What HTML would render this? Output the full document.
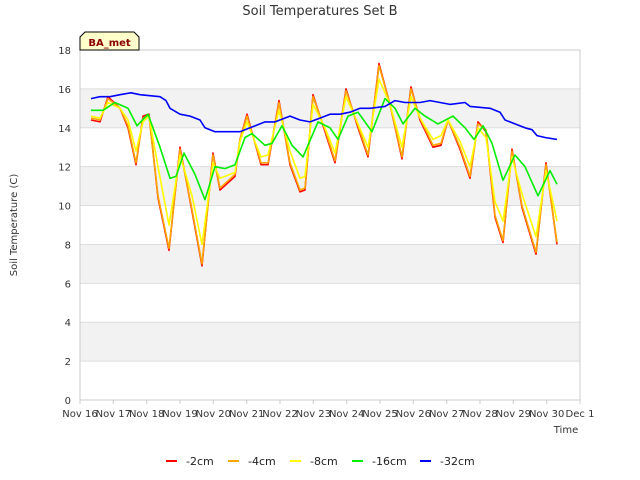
<!DOCTYPE html>
<html><head><meta charset="utf-8"><style>
body{margin:0;background:#fff;}
svg{display:block;font-family:"DejaVu Sans","Liberation Sans",sans-serif;}
</style></head><body>
<svg id="chart" width="640" height="480" viewBox="0 0 640 480">
<rect width="640" height="480" fill="#fff"/>
<text x="320" y="15" text-anchor="middle" font-size="13" fill="#333">Soil Temperatures Set B</text>
<g id="bands"></g>
<g id="grid"></g>
<g id="axes"></g>
<g id="series"></g>
<text transform="translate(17,225) rotate(-90)" text-anchor="middle" font-size="10" fill="#333">Soil Temperature (C)</text>
<text x="566" y="433" text-anchor="middle" font-size="10" fill="#333">Time</text>
<g>
<path d="M80,50 L80,37 L85,32 L134,32 L139,37 L139,50 Z" fill="#ffffcc" stroke="#000" stroke-width="1"/>
<text x="109.5" y="46" text-anchor="middle" font-size="10" font-weight="bold" fill="#8b0000">BA_met</text>
</g>
<g id="legend"></g>
</svg>
<script>
const yTicks=[0,2,4,6,8,10,12,14,16,18];
const xTickLabels=["Nov 16","Nov 17","Nov 18","Nov 19","Nov 20","Nov 21","Nov 22","Nov 23","Nov 24","Nov 25","Nov 26","Nov 27","Nov 28","Nov 29","Nov 30","Dec 1"];
const seriesNames=["-2cm","-4cm","-8cm","-16cm","-32cm"];
const seriesColors=["#ff0000","#ffa500","#ffff00","#00ee00","#0000ff"];
const tA=[0.33,0.6,0.84,1.2,1.44,1.68,1.89,2.07,2.34,2.67,3.0,3.36,3.66,3.99,4.2,4.65,4.8,5.01,5.43,5.64,5.97,6.3,6.6,6.75,6.99,7.35,7.65,7.98,8.34,8.64,8.97,9.3,9.66,9.93,10.2,10.59,10.83,11.04,11.4,11.7,11.94,12.18,12.45,12.69,12.96,13.26,13.68,13.98,14.31];
const v2=[14.4,14.3,15.6,15.0,14.0,12.1,14.6,14.7,10.4,7.7,13.0,9.7,6.9,12.7,10.8,11.5,13.4,14.7,12.1,12.1,15.4,12.1,10.7,10.8,15.7,13.8,12.2,16.0,14.0,12.5,17.3,15.2,12.4,16.1,14.4,13.0,13.1,14.4,12.9,11.4,14.3,13.8,9.4,8.1,12.9,9.9,7.5,12.2,8.0];
const v4=[14.5,14.4,15.5,15.0,14.1,12.2,14.5,14.6,10.5,7.8,12.9,9.8,7.0,12.6,10.9,11.6,13.4,14.6,12.2,12.2,15.3,12.2,10.8,10.9,15.6,13.9,12.3,15.9,14.1,12.6,17.2,15.2,12.5,16.0,14.5,13.1,13.2,14.4,13.0,11.5,14.2,13.9,9.5,8.2,12.8,10.0,7.6,12.1,8.1];
const v8=[14.6,14.5,15.3,15.0,14.4,12.8,14.3,14.6,12.0,9.0,12.6,10.5,8.0,12.2,11.4,11.7,13.3,14.3,12.5,12.6,14.9,12.8,11.4,11.5,15.2,14.0,12.7,15.6,14.2,13.0,16.5,15.2,13.0,15.6,14.5,13.4,13.6,14.4,13.3,12.0,14.0,13.5,10.2,9.2,12.5,10.6,8.4,11.8,9.2];
const tG=[0.33,0.69,1.05,1.44,1.71,2.04,2.4,2.7,2.88,3.12,3.45,3.75,4.05,4.35,4.65,4.95,5.16,5.55,5.76,6.06,6.36,6.69,7.14,7.5,7.74,8.04,8.34,8.76,9.15,9.45,9.69,10.05,10.35,10.74,11.19,11.55,11.82,12.09,12.36,12.69,13.05,13.35,13.74,14.1,14.31];
const v16=[14.9,14.9,15.3,15.0,14.1,14.7,13.0,11.4,11.5,12.7,11.6,10.3,12.0,11.9,12.1,13.5,13.7,13.1,13.2,14.1,13.1,12.5,14.3,14.0,13.4,14.6,14.8,13.8,15.5,15.0,14.2,15.0,14.6,14.2,14.6,14.0,13.4,14.1,13.2,11.3,12.6,12.0,10.5,11.8,11.1];
const tB=[0.33,0.6,0.9,1.2,1.53,1.8,2.4,2.58,2.7,3.0,3.3,3.6,3.75,4.05,4.5,4.8,5.1,5.55,5.85,6.3,6.6,6.9,7.2,7.5,7.8,8.1,8.4,8.7,9.15,9.45,9.75,10.2,10.5,10.8,11.1,11.55,11.7,12.3,12.6,12.75,13.05,13.35,13.56,13.71,13.95,14.31];
const v32=[15.5,15.6,15.6,15.7,15.8,15.7,15.6,15.4,15.0,14.7,14.6,14.4,14.0,13.8,13.8,13.8,14.0,14.3,14.3,14.6,14.4,14.3,14.5,14.7,14.7,14.8,15.0,15.0,15.1,15.4,15.3,15.3,15.4,15.3,15.2,15.3,15.1,15.0,14.8,14.4,14.2,14.0,13.9,13.6,13.5,13.4];

const X0=80,X1=580,Y0=400,Y1=50;
const xs=d=>X0+d*(X1-X0)/15;
const ys=v=>Y0-v*(Y0-Y1)/18;
const NS="http://www.w3.org/2000/svg";
function mk(tag,attrs,parent){const e=document.createElementNS(NS,tag);for(const k in attrs)e.setAttribute(k,attrs[k]);parent.appendChild(e);return e;}
const bands=document.getElementById('bands'),grid=document.getElementById('grid'),axes=document.getElementById('axes'),series=document.getElementById('series'),legend=document.getElementById('legend');
for(let v=2;v<18;v+=4){const r=mk('rect',{x:X0,y:ys(v+2),width:X1-X0,height:ys(v)-ys(v+2),fill:'#f2f2f2'},bands);

}
yTicks.forEach(v=>{const l=mk('line',{x1:X0,x2:X1,y1:ys(v),y2:ys(v),stroke:'#dddddd','stroke-width':1},grid);


const t=mk('text',{x:X0-9,y:ys(v)+4,'text-anchor':'end','font-size':10,fill:'#333'},axes);t.textContent=v;

});
const fr=mk('rect',{x:X0,y:Y1,width:X1-X0,height:Y0-Y1,fill:'none',stroke:'#cccccc'},axes);


xTickLabels.forEach((s,i)=>{const t=mk('text',{x:xs(i),y:Y0+17,'text-anchor':'middle','font-size':10,fill:'#333'},axes);t.textContent=s;


const tk=mk('line',{x1:xs(i),x2:xs(i),y1:Y0,y2:Y0+4,stroke:'#ccc'},axes);

});
const data=[[tA,v2],[tA,v4],[tA,v8],[tG,v16],[tB,v32]];
data.forEach((d,i)=>{const pts=d[0].map((t,j)=>xs(t).toFixed(1)+','+ys(d[1][j]).toFixed(1)).join(' ');
const p=mk('polyline',{points:pts,fill:'none',stroke:seriesColors[i],'stroke-width':1.6,'stroke-linejoin':'round'},series);

});
const lx=[166,228,290,352,420];
seriesNames.forEach((n,i)=>{const g=mk('g',{},legend);


mk('line',{x1:lx[i],x2:lx[i]+11,y1:461,y2:461,stroke:seriesColors[i],'stroke-width':2},g);
const t=mk('text',{x:lx[i]+20,y:465,'font-size':11,fill:'#222'},g);t.textContent=n;});
</script>
</body></html>
